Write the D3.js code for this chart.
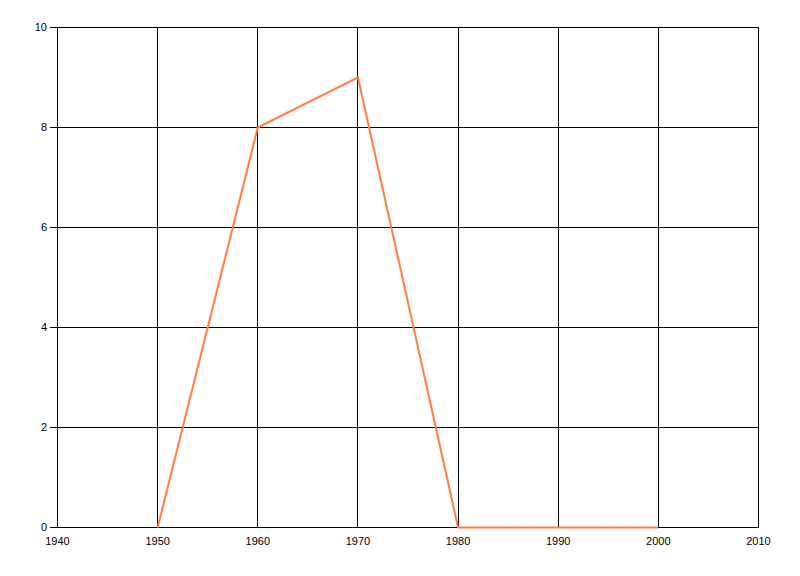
<!DOCTYPE html>
<html><head><meta charset="utf-8">
<script src="https://cdn.jsdelivr.net/npm/d3@7"></script>
<style>body{margin:0;background:#fff}svg{display:block}text{font-family:"Liberation Sans",Arial,sans-serif;font-size:11px;fill:#000}</style>
</head><body>
<script>
const years = [1950, 1960, 1970, 1980, 1990, 2000];
const values = [0, 8, 9, 0, 0, 0];
const xTicks = [1940, 1950, 1960, 1970, 1980, 1990, 2000, 2010];
const yTicks = [0, 2, 4, 6, 8, 10];

const W = 800, H = 576;
const m = {left: 57.5, right: 758.5, top: 27.5, bottom: 527.5};
const svg = d3.select("body").append("svg").attr("width", W).attr("height", H);
const x = d3.scaleLinear().domain([1940, 2010]).range([m.left, m.right]);
const y = d3.scaleLinear().domain([0, 10]).range([m.bottom, m.top]);

// grid
svg.append("g").selectAll("line").data(xTicks).join("line")
  .attr("x1", d => x(d)).attr("x2", d => x(d)).attr("y1", m.top).attr("y2", m.bottom)
  .attr("stroke", "#000").attr("stroke-width", 1).attr("shape-rendering", "crispEdges");
svg.append("g").selectAll("line").data(yTicks).join("line")
  .attr("x1", m.left - 8).attr("x2", m.right).attr("y1", d => y(d)).attr("y2", d => y(d))
  .attr("stroke", "#000").attr("stroke-width", 1).attr("shape-rendering", "crispEdges");

// labels
svg.append("g").selectAll("text").data(yTicks).join("text")
  .attr("x", 47).attr("y", d => y(d)).attr("dy", "0.35em").attr("text-anchor", "end").text(d => d);
svg.append("g").selectAll("text").data(xTicks).join("text")
  .attr("x", d => x(d)).attr("y", 545).attr("text-anchor", "middle").text(d => d);

// line
const line = d3.line().x((d, i) => x(years[i])).y(d => y(d));
svg.append("path").datum(values).attr("d", line)
  .attr("fill", "none").attr("stroke", "#ff7f3f").attr("stroke-width", 2).attr("stroke-linejoin", "miter");
</script>
</body></html>
